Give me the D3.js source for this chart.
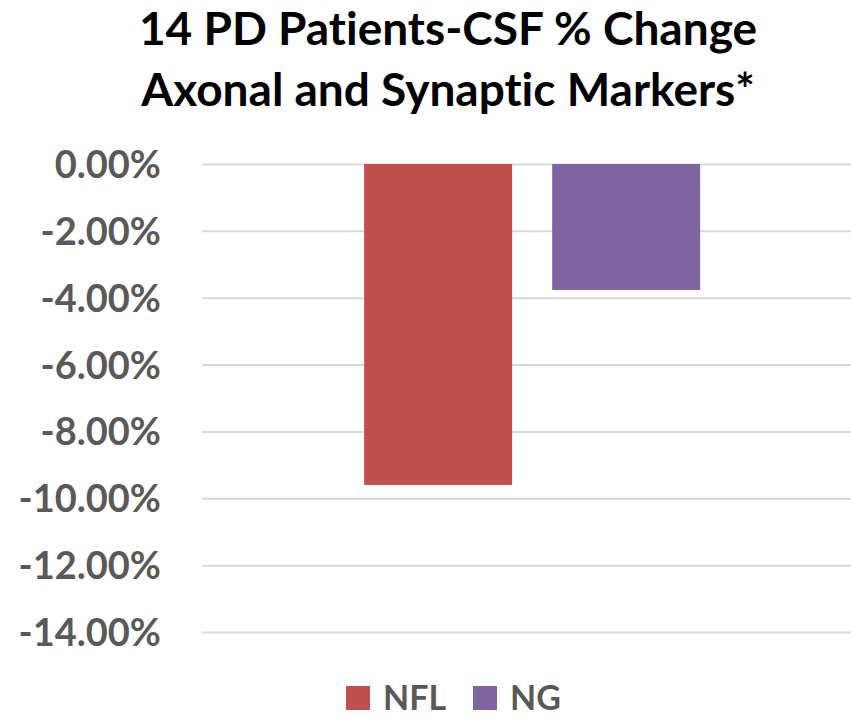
<!DOCTYPE html>
<html>
<head>
<meta charset="utf-8">
<script src="https://cdn.jsdelivr.net/npm/d3@7"></script>
<style>
  body { margin: 0; background: #fff; }
  text { font-family: Lato, "Open Sans", sans-serif; font-weight: bold; font-variant-ligatures: none; }
</style>
</head>
<body>
<svg id="chart" width="851" height="719"></svg>
<script>
// data
const seriesNames = ['NFL', 'NG']
const seriesValues = [-0.096, -0.0377]
const seriesColors = ['#C0504D', '#8064A2']
const yTicks = [0, -0.02, -0.04, -0.06, -0.08, -0.10, -0.12, -0.14]
const titleLines = ['14 PD Patients-CSF % Change', 'Axonal and Synaptic Markers*']

let svg = d3.select('#chart')

let margin = { left: 202, right: 851, top: 164, bottom: 632 }

let y = d3.scaleLinear().domain([0, -0.14]).range([margin.top, margin.bottom])
let x = d3.scaleBand().domain(seriesNames).range([margin.left, margin.right])
    .paddingInner(0.213).paddingOuter(0.832).align(0.518)

// title
svg.selectAll('.title').data(titleLines).join('text')
    .attr('class', 'title')
    .attr('x', 448)
    .attr('y', (d, i) => 45 + i * 61)
    .attr('text-anchor', 'middle')
    .style('font-size', '46px')
    .style('fill', '#000')
    .text(d => d)

// gridlines
let yAxis = d3.axisLeft(y).tickValues(yTicks)
    .tickSize(-(margin.right - margin.left))
    .tickFormat(d => d3.format('.2%')(d).replace('−', '-'))
    .tickPadding(41)

let g = svg.append('g').attr('transform', `translate(${margin.left},0)`).call(yAxis)
g.select('.domain').remove()
g.selectAll('.tick line').style('stroke', '#D9D9D9').style('stroke-width', 2)
g.selectAll('.tick text')
    .style('font-size', '38px')
    .style('fill', '#595959')
    .attr('dy', '13.5px')

// bars
svg.selectAll('.bar').data(seriesValues).join('rect')
    .attr('class', 'bar')
    .attr('x', (d, i) => x(seriesNames[i]))
    .attr('width', x.bandwidth())
    .attr('y', d => y(Math.max(0, d)))
    .attr('height', d => Math.abs(y(d) - y(0)))
    .style('fill', (d, i) => seriesColors[i])

// legend
let legendX = [346, 473]
let legend = svg.selectAll('.legend').data(seriesNames).join('g')
    .attr('class', 'legend')
    .attr('transform', (d, i) => `translate(${legendX[i]},686)`)

legend.append('rect')
    .attr('width', 24).attr('height', 24)
    .style('fill', (d, i) => seriesColors[i])

legend.append('text')
    .attr('x', 37).attr('y', 24)
    .style('font-size', '34px')
    .style('fill', '#595959')
    .text(d => d)
</script>
</body>
</html>
